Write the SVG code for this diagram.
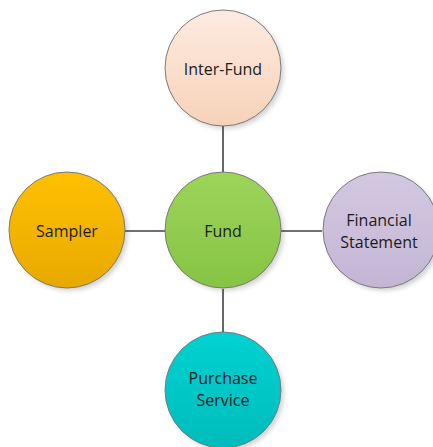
<svg xmlns="http://www.w3.org/2000/svg" width="433" height="447" viewBox="0 0 433 447">
  <style>
    .node circle { stroke: #7a7a7a; stroke-width: 1; }
    .shadow { fill: #000; opacity: 0.18; filter: url(#soft); }
    .label { font-family: "Open Sans", "Liberation Sans", sans-serif; font-size: 16px; fill: #1c1c1c; text-anchor: middle; }
    .link { stroke: #404040; stroke-width: 1.6; fill: none; }
  </style>
  <defs>
    <filter id="soft" x="-20%" y="-20%" width="140%" height="140%">
      <feGaussianBlur stdDeviation="2"/>
    </filter>
    <linearGradient id="gPeach" x1="0" y1="0" x2="0" y2="1">
      <stop offset="0" stop-color="#fdebe0"/>
      <stop offset="1" stop-color="#f7d2b9"/>
    </linearGradient>
    <linearGradient id="gGreen" x1="0" y1="0" x2="0" y2="1">
      <stop offset="0" stop-color="#9dd45a"/>
      <stop offset="1" stop-color="#86c444"/>
    </linearGradient>
    <linearGradient id="gAmber" x1="0" y1="0" x2="0" y2="1">
      <stop offset="0" stop-color="#ffc000"/>
      <stop offset="1" stop-color="#e8a900"/>
    </linearGradient>
    <linearGradient id="gLilac" x1="0" y1="0" x2="0" y2="1">
      <stop offset="0" stop-color="#d3c8e1"/>
      <stop offset="1" stop-color="#c3b6d5"/>
    </linearGradient>
    <linearGradient id="gTeal" x1="0" y1="0" x2="0" y2="1">
      <stop offset="0" stop-color="#00d2d2"/>
      <stop offset="1" stop-color="#00bcbc"/>
    </linearGradient>
  </defs>
  <rect width="433" height="447" fill="#ffffff"/>

  <!-- connectors -->
  <g id="connectors">
    <line class="link" x1="223" y1="126" x2="223" y2="172"/>
    <line class="link" x1="125" y1="231" x2="165" y2="231"/>
    <line class="link" x1="281" y1="231" x2="322" y2="231"/>
    <line class="link" x1="223" y1="289" x2="223" y2="332"/>
  </g>

  <g id="inter-fund" class="node">
    <circle class="shadow" cx="226" cy="71" r="58"/>
    <circle cx="223" cy="68" r="58" fill="url(#gPeach)"/>
    <text class="label" x="223" y="75">Inter-Fund</text>
  </g>

  <g id="fund" class="node">
    <circle class="shadow" cx="226" cy="233" r="58"/>
    <circle cx="223" cy="230" r="58" fill="url(#gGreen)"/>
    <text class="label" x="223" y="237">Fund</text>
  </g>

  <g id="sampler" class="node">
    <circle class="shadow" cx="70" cy="233" r="58"/>
    <circle cx="67" cy="230" r="58" fill="url(#gAmber)"/>
    <text class="label" x="67" y="237">Sampler</text>
  </g>

  <g id="financial-statement" class="node">
    <circle class="shadow" cx="384" cy="233" r="58"/>
    <circle cx="381" cy="230" r="58" fill="url(#gLilac)"/>
    <text class="label" x="379" y="226">Financial</text>
    <text class="label" x="379" y="248">Statement</text>
  </g>

  <g id="purchase-service" class="node">
    <circle class="shadow" cx="226" cy="393" r="58"/>
    <circle cx="223" cy="390" r="58" fill="url(#gTeal)"/>
    <text class="label" x="223" y="384">Purchase</text>
    <text class="label" x="223" y="406">Service</text>
  </g>
</svg>
